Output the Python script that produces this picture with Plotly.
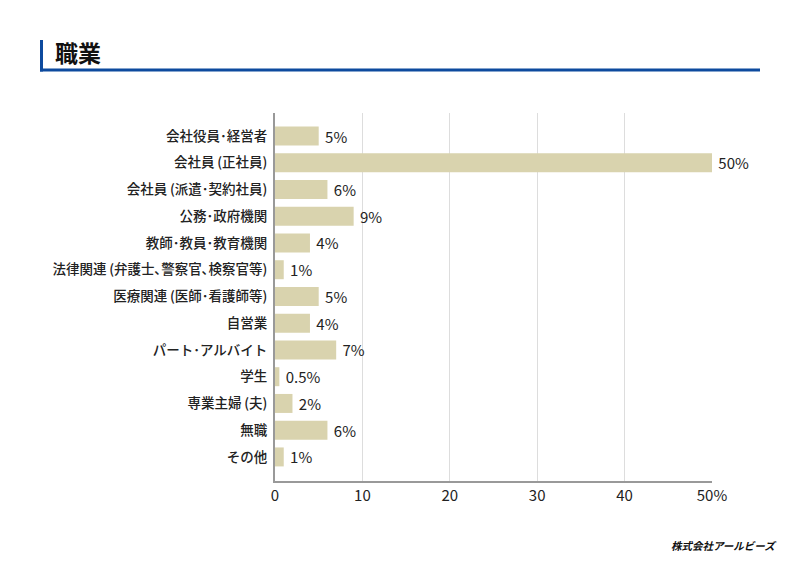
import plotly.graph_objects as go

categories = ["会社役員･経営者", "会社員\u2009(正社員)", "会社員\u2009(派遣･契約社員)", "公務･政府機関",
              "教師･教員･教育機関", "法律関連\u2009(弁護士､警察官､検察官等)", "医療関連\u2009(医師･看護師等)",
              "自営業", "パート･アルバイト", "学生", "専業主婦\u2009(夫)", "無職", "その他"]
values = [5, 50, 6, 9, 4, 1, 5, 4, 7, 0.5, 2, 6, 1]
labels = ["5%", "50%", "6%", "9%", "4%", "1%", "5%", "4%", "7%", "0.5%", "2%", "6%", "1%"]
tick_vals = [0, 10, 20, 30, 40, 50]
tick_text = ["0", "10", "20", "30", "40", "50%"]

FONT = "Noto Sans CJK JP"
OFF = 8  # page body margin

L, R, T, B = 275 - OFF, 800 - 712 + OFF, 113 - OFF, 566 - 481 + OFF

fig = go.Figure(go.Bar(
    x=values, y=categories, orientation="h",
    marker=dict(color="#d9d3ae", line=dict(width=0)),
    text=[" " + t for t in labels], textposition="outside", cliponaxis=False,
    constraintext="none",
    textfont=dict(family=FONT, size=15, color="#222"),
    width=0.71,
))

fig.update_layout(
    width=800, height=566,
    paper_bgcolor="white", plot_bgcolor="white",
    margin=dict(l=L, r=R, t=T, b=B, autoexpand=False),
    showlegend=False,
    font=dict(family=FONT, color="#222"),
    xaxis=dict(range=[0, 50], tickvals=tick_vals, ticktext=tick_text,
               showgrid=True, gridcolor="#dddddd", gridwidth=1,
               zeroline=False, showline=True, linecolor="#999999", linewidth=2,
               ticks="", automargin=False,
               tickfont=dict(size=15, family=FONT, color="#222")),
    yaxis=dict(type="category", range=[12.9, -0.86], showgrid=False, automargin=False,
               showline=True, linecolor="#999999", linewidth=2, ticks="",
               ticksuffix=" ", tickfont=dict(size=13.5, family=FONT, color="#222", weight=500)),
)

H = 566 - T - B
W = 800 - L - R
def px(x):
    return (x - OFF - L) / W
def py(y):
    return (566 - B - (y - OFF)) / H

fig.add_shape(type="rect", xref="paper", yref="paper", x0=px(40), x1=px(43), y0=py(71.5), y1=py(40),
              fillcolor="#0d4a9e", line=dict(width=0))
fig.add_shape(type="rect", xref="paper", yref="paper", x0=px(40), x1=px(760), y0=py(71.5), y1=py(68.5),
              fillcolor="#0d4a9e", line=dict(width=0))
fig.add_annotation(xref="paper", yref="paper", x=px(53), y=py(52), text="職業", showarrow=False,
                   xanchor="left", yanchor="middle",
                   font=dict(family=FONT, size=23, color="#111", weight=600))
fig.add_annotation(xref="paper", yref="paper", x=px(779), y=py(545), text="<b><i>株式会社アールビーズ</i></b>",
                   showarrow=False, xanchor="right", yanchor="middle",
                   font=dict(family=FONT, size=10.5, color="#111"))

fig.write_html("out.html")
